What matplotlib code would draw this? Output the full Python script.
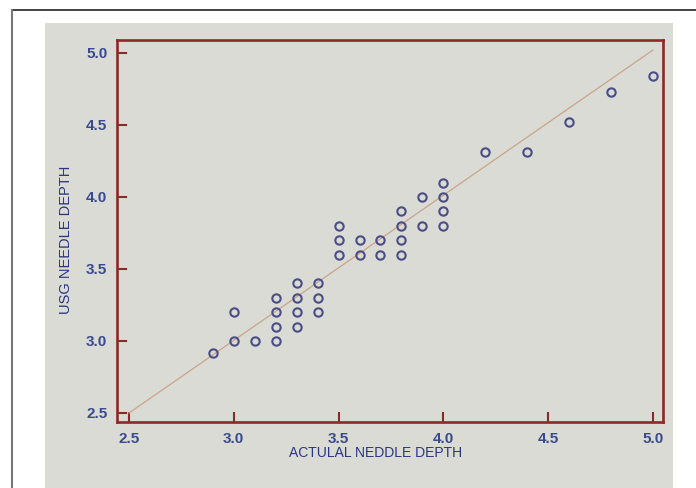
import matplotlib
matplotlib.use("Agg")
import matplotlib.pyplot as plt
from matplotlib.patches import Rectangle
from matplotlib.lines import Line2D

plt.rcParams['font.family'] = ['Liberation Sans', 'DejaVu Sans']

# Data
actual = [2.9, 3.0, 3.0, 3.1,
          3.2, 3.2, 3.2, 3.2,
          3.3, 3.3, 3.3, 3.3,
          3.4, 3.4, 3.4,
          3.5, 3.5, 3.5,
          3.6, 3.6,
          3.7, 3.7,
          3.8, 3.8, 3.8, 3.8,
          3.9, 3.9,
          4.0, 4.0, 4.0, 4.0,
          4.2, 4.4, 4.6, 4.8, 5.0]
usg = [2.92, 3.0, 3.2, 3.0,
       3.0, 3.1, 3.2, 3.3,
       3.1, 3.2, 3.3, 3.4,
       3.2, 3.3, 3.4,
       3.6, 3.7, 3.8,
       3.6, 3.7,
       3.6, 3.7,
       3.6, 3.7, 3.8, 3.9,
       3.8, 4.0,
       3.8, 3.9, 4.0, 4.1,
       4.31, 4.31, 4.52, 4.73, 4.84]
fit_x = [2.5, 5.0]
fit_y = [2.5, 5.02]
xticks = [2.5, 3.0, 3.5, 4.0, 4.5, 5.0]
yticks = [2.5, 3.0, 3.5, 4.0, 4.5, 5.0]
xlabel = "ACTULAL NEDDLE DEPTH"
ylabel = "USG NEEDLE DEPTH"

W, H = 696, 488
fig = plt.figure(figsize=(W / 100, H / 100), dpi=100)
fig.patch.set_facecolor("white")

# photo background and partial black frame
bg = "#dadbd4"
fig.patches.append(Rectangle((45 / W, 0), (673 - 45) / W, 1 - 23 / H,
                             transform=fig.transFigure, facecolor=bg,
                             edgecolor="none", zorder=-10))
fig.lines.append(Line2D([12 / W, 1.0], [1 - 10 / H, 1 - 10 / H],
                        transform=fig.transFigure, color="#222222", lw=1.2, zorder=-10))
fig.lines.append(Line2D([12 / W, 12 / W], [0, 1 - 10 / H],
                        transform=fig.transFigure, color="#777777", lw=1.5, zorder=-10))

left, right, top, bottom = 117, 663, 40, 422
ax = fig.add_axes([left / W, 1 - bottom / H, (right - left) / W, (bottom - top) / H])
ax.set_zorder(1)
ax.set_facecolor(bg)
ax.set_xlim(2.443, 5.048)
ax.set_ylim(2.4375, 5.09)

red = "#8c2828"
for s in ax.spines.values():
    s.set_color(red)
    s.set_linewidth(1.9)

ax.plot(fit_x, fit_y, color="#c9a48c", lw=0.9, zorder=2)
ax.plot(actual, usg, linestyle="none", marker="o", markersize=6.0,
        markerfacecolor="none", markeredgecolor="#4a4d86",
        markeredgewidth=1.5, zorder=3)

ax.set_xticks(xticks)
ax.set_yticks(yticks)
ax.set_xticklabels([f"{t:.1f}" for t in xticks])
ax.set_yticklabels([f"{t:.1f}" for t in yticks])
ax.tick_params(direction="in", length=7.5, width=1.5, color=red,
               labelsize=11, labelcolor="#3a4a8e", pad=7)
for lab in ax.get_xticklabels() + ax.get_yticklabels():
    lab.set_fontweight("bold")

fig.text(376 / W, 1 - 453 / H, xlabel, ha="center", va="center",
         fontsize=10, color="#2b3680", zorder=2)
fig.text(66 / W, 1 - 240 / H, ylabel, ha="center", va="center",
         rotation=90, fontsize=10.5, color="#2b3680", zorder=2)

fig.savefig("out.png", dpi=100, facecolor=fig.get_facecolor())
